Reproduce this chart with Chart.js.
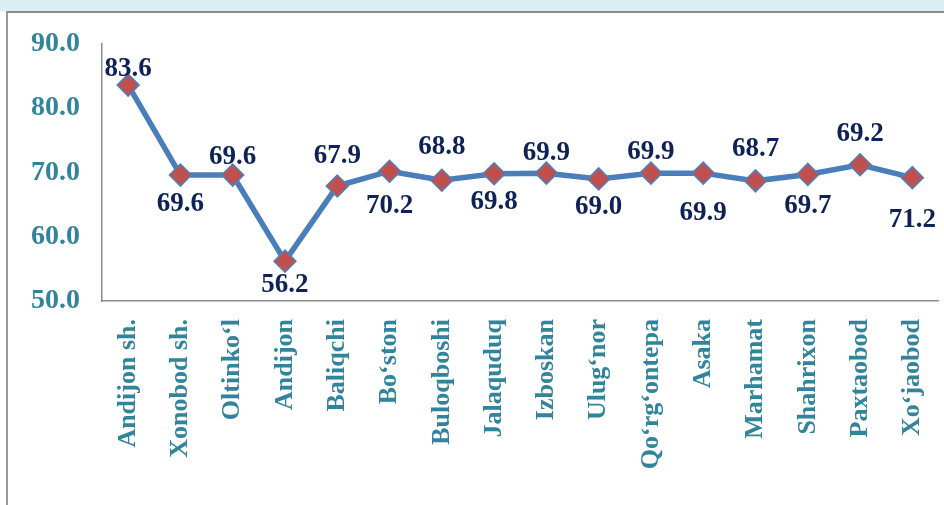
<!DOCTYPE html>
<html>
<head>
<meta charset="utf-8">
<script src="https://cdn.jsdelivr.net/npm/chart.js@4"></script>
<style>
  html, body { margin: 0; padding: 0; background: #ffffff; overflow: hidden; }
  #wrap { position: relative; width: 944px; height: 505px; overflow: hidden; background: #ffffff; }
  #strip { position: absolute; left: 0; top: 0; width: 944px; height: 11px; background: #dbeef4; }
  #frame { position: absolute; left: 6px; top: 11px; width: 944px; height: 500px; border-left: 2px solid #9a9a9a; border-top: 2px solid #8c8c8c; }
  #c { position: absolute; left: 0; top: 0; }
</style>
</head>
<body>
<div id="wrap">
  <div id="strip"></div>
  <div id="frame"></div>
  <canvas id="c" width="951" height="505"></canvas>
</div>
<script>
const categories = ['Andijon sh.', 'Xonobod sh.', 'Oltinkoʻl', 'Andijon', 'Baliqchi', 'Boʻston', 'Buloqboshi', 'Jalaquduq', 'Izboskan', 'Ulugʻnor', 'Qoʻrgʻontepa', 'Asaka', 'Marhamat', 'Shahrixon', 'Paxtaobod', 'Xoʻjaobod'];
const values = [83.6, 69.6, 69.6, 56.2, 67.9, 70.2, 68.8, 69.8, 69.9, 69.0, 69.9, 69.9, 68.7, 69.7, 71.2, 69.2];
const valueLabels = ['83.6', '69.6', '69.6', '56.2', '67.9', '70.2', '68.8', '69.8', '69.9', '69.0', '69.9', '69.9', '68.7', '69.7', '69.2', '71.2'];
const yTicks = [50, 60, 70, 80, 90];

const FONT = '"Liberation Serif", "Times New Roman", serif';

const labelPlugin = {
  id: 'pointLabels',
  afterDatasetsDraw(chart, args, opts) {
    const ctx = chart.ctx;
    const meta = chart.getDatasetMeta(0);
    ctx.save();
    ctx.font = 'bold 27px ' + FONT;
    ctx.fillStyle = '#0e2258';
    ctx.textAlign = 'center';
    ctx.textBaseline = 'middle';
    meta.data.forEach((pt, i) => {
      const dy = opts.offsets[i];
      ctx.fillText(valueLabels[i], pt.x, pt.y + dy);
    });
    ctx.restore();
  }
};

new Chart(document.getElementById('c'), {
  type: 'line',
  data: {
    labels: categories,
    datasets: [{
      data: values,
      borderColor: '#4a7ebb',
      borderWidth: 5.5,
      tension: 0,
      fill: false,
      pointStyle: 'rectRot',
      pointRadius: 11,
      pointHoverRadius: 11,
      pointBackgroundColor: '#c0504d',
      pointBorderColor: '#4f81bd',
      pointBorderWidth: 1.5
    }]
  },
  options: {
    responsive: false,
    animation: false,
    events: [],
    layout: { padding: { top: 44, right: 0, left: 0, bottom: 0 } },
    plugins: {
      legend: { display: false },
      tooltip: { enabled: false },
      pointLabels: { offsets: [-16, 29, -18, 24, -30, 35, -33, 28, -20, 28, -21, 40, -32, 32, -31, 42] }
    },
    scales: {
      x: {
        offset: true,
        grid: { display: false, drawTicks: false },
        border: { display: true, color: '#8c8c8c', width: 1.5 },
        ticks: {
          autoSkip: false,
          minRotation: 90,
          maxRotation: 90,
          padding: 18,
          color: '#31849b',
          font: { family: FONT, size: 26, weight: 'bold' }
        },
        afterFit(scale) {
          scale.height = 204;
          scale.paddingLeft = 0;
          scale.paddingRight = 0;
        }
      },
      y: {
        min: 50,
        max: 90,
        afterBuildTicks(scale) { scale.ticks = yTicks.map(v => ({ value: v })); },
        grid: { display: false, drawTicks: false },
        border: { display: true, color: '#8c8c8c', width: 1.5 },
        ticks: {
          padding: 22,
          color: '#31849b',
          font: { family: FONT, size: 28, weight: 'bold' },
          callback: v => Number(v).toFixed(1)
        },
        afterFit(scale) {
          scale.width = 102;
          scale.paddingTop = 0;
          scale.paddingBottom = 0;
        }
      }
    }
  },
  plugins: [labelPlugin]
});
</script>
</body>
</html>
